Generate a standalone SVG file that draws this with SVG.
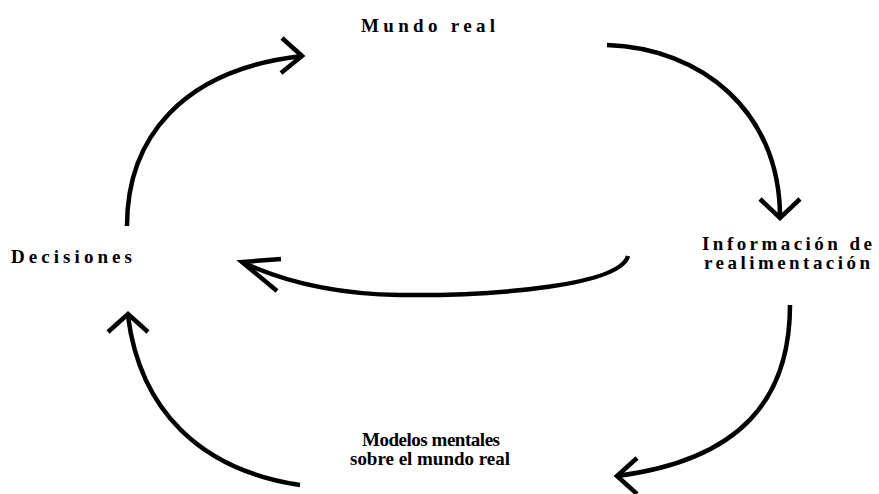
<svg xmlns="http://www.w3.org/2000/svg" width="879" height="494" viewBox="0 0 879 494">
<style>
.lbl{font-family:"Liberation Serif","Times New Roman",serif;font-weight:bold;font-size:19px;fill:#000}
.c{fill:none;stroke:#000;stroke-width:4.5;stroke-linecap:butt;stroke-linejoin:miter}
</style>
<rect width="879" height="494" fill="#fff"/>
<g id="mundo-real"><text class="lbl" x="361" y="32" textLength="134" lengthAdjust="spacing">Mundo real</text></g>
<g id="decisiones"><text class="lbl" x="11" y="263" textLength="121" lengthAdjust="spacing">Decisiones</text></g>
<g id="informacion"><text class="lbl" x="702" y="250" textLength="170" lengthAdjust="spacing">Información de</text><text class="lbl" x="704" y="269" textLength="166" lengthAdjust="spacing">realimentación</text></g>
<g id="modelos"><text class="lbl" x="362" y="446" textLength="138" lengthAdjust="spacing">Modelos mentales</text><text class="lbl" x="350" y="465" textLength="160" lengthAdjust="spacing">sobre el mundo real</text></g>
<g id="connectors">
<path class="c" d="M127,226 C127,140 180,70 302,56"/>
<path class="c" d="M282,38 L302,56 L281,73"/>
<path class="c" d="M607,45 C700,48 780,110 780,217"/>
<path class="c" d="M760,199 L780,218 L800,199"/>
<path class="c" d="M628,256 C620,285 500,296 400,295 C330,294 280,280 242,262"/>
<path class="c" d="M281,259 L242,262 L277,291"/>
<path class="c" d="M300,485 C200,470 140,410 128,316"/>
<path class="c" d="M108,332 L128,314 L148,332"/>
<path class="c" d="M790,305 C790,400 740,460 617,476"/>
<path class="c" d="M637,458 L617,476 L637,494"/>
</g>
</svg>
